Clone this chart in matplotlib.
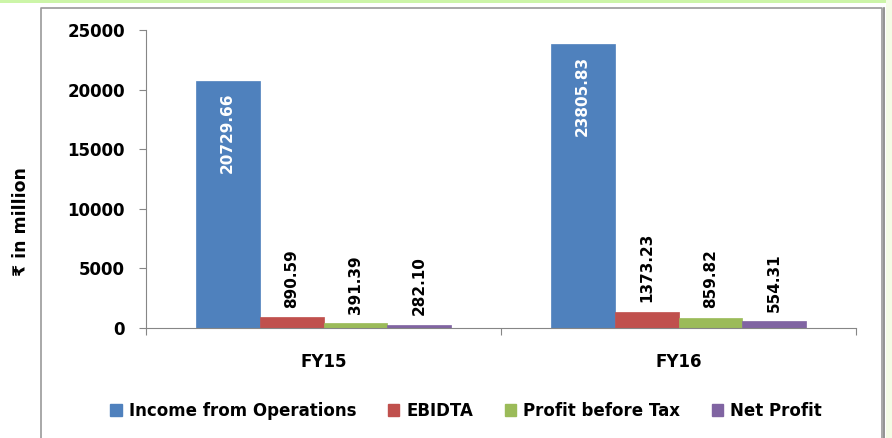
import numpy as np
import matplotlib.pyplot as plt
from matplotlib.patches import Rectangle
from matplotlib.lines import Line2D

plt.rcParams['font.family'] = ['DejaVu Sans', 'Noto Sans']
plt.rcParams['font.weight'] = 'bold'

# data
years = ['FY15', 'FY16']
series = ['Income from Operations', 'EBIDTA', 'Profit before Tax', 'Net Profit']
income = [20729.66, 23805.83]
ebidta = [890.59, 1373.23]
pbt = [391.39, 859.82]
net_profit = [282.10, 554.31]
colors = ['#4F81BD', '#C0504D', '#9BBB59', '#8064A2']

W, H = 892, 438
fig = plt.figure(figsize=(W / 100, H / 100), dpi=100)

# outer decorations: green band on top, pale strip on right, gray frame
fig.patches.append(Rectangle((0, 1 - 3 / H), 887 / W, 3 / H, transform=fig.transFigure,
                             facecolor='#CCF5A8', edgecolor='none', zorder=0))
fig.patches.append(Rectangle((886 / W, 0), 6 / W, 1, transform=fig.transFigure,
                             facecolor='#F4FCE6', edgecolor='none', zorder=0))
fr = Line2D([41 / W, 41 / W, 882 / W, 882 / W], [0, 1 - 8 / H, 1 - 8 / H, 0],
            transform=fig.transFigure, color='#9A9A9A', lw=1.2)
fig.lines.append(fr)
fig.lines.append(Line2D([884 / W, 884 / W], [0, 1 - 8 / H], transform=fig.transFigure,
                        color='#808080', lw=1.2))

ax = fig.add_axes([146 / W, (H - 328) / H, (856 - 146) / W, (328 - 30) / H])

x = np.arange(len(years))
w = 0.18
all_vals = [income, ebidta, pbt, net_profit]
for i, (name, vals, c) in enumerate(zip(series, all_vals, colors)):
    pos = x + (i - 1.5) * w
    ax.bar(pos, vals, width=w, color=c, label=name, edgecolor=c, linewidth=0.5)
    for p, v in zip(pos, vals):
        if i == 0:
            ax.text(p, v - 1000, f'{v:.2f}', rotation=90, ha='center', va='top',
                    color='white', fontsize=11, fontweight='bold')
        else:
            ax.text(p, v + 800, f'{v:.2f}', rotation=90, ha='center', va='bottom',
                    color='black', fontsize=11, fontweight='bold')

ax.set_xlim(-0.5, 1.5)
ax.set_ylim(0, 25000)
ax.set_yticks(np.arange(0, 25001, 5000))
ax.set_yticklabels([str(t) for t in range(0, 25001, 5000)], fontsize=12, fontweight='bold')
ax.set_xticks([-0.5, 0.5, 1.5])
ax.set_xticklabels([])
ax.set_xticks(x, minor=True)
ax.set_xticklabels(years, minor=True, fontsize=12, fontweight='bold')
ax.tick_params(axis='x', which='minor', length=0, pad=18)
ax.tick_params(axis='x', which='major', length=5, color='#868686', direction='out')
ax.tick_params(axis='y', length=5, color='#868686', pad=10)
for s in ['top', 'right']:
    ax.spines[s].set_visible(False)
for s in ['left', 'bottom']:
    ax.spines[s].set_color('#868686')

fig.text(21 / W, 1 - 222 / H, '₹ in million', rotation=90, ha='center', va='center',
         fontsize=12.5, fontweight='bold')

handles = [Rectangle((0, 0), 1, 1, color=c) for c in colors]
fig.legend(handles, series, loc='center', bbox_to_anchor=(466 / W, 1 - 411 / H), ncol=4,
           frameon=False, handlelength=0.7, handleheight=0.7,
           handletextpad=0.4, columnspacing=1.9, prop={'weight': 'bold', 'size': 12})

fig.savefig('out.png', dpi=100)
